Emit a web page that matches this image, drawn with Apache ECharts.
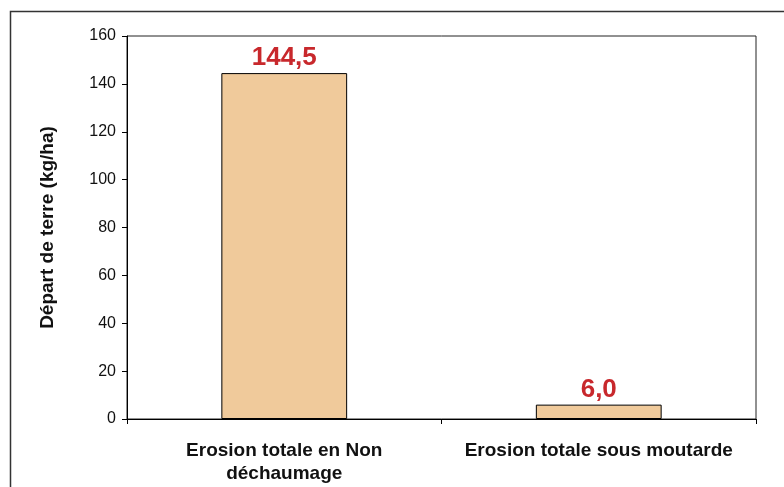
<!DOCTYPE html>
<html>
<head>
<meta charset="utf-8">
<script src="https://cdn.jsdelivr.net/npm/echarts@6/dist/echarts.min.js"></script>
<style>
  html, body { margin: 0; padding: 0; background: #fff; }
  #main { width: 784px; height: 487px; }
</style>
</head>
<body>
<div id="main"></div>
<script>
// catégories et valeurs
var categories = ['Erosion totale en Non\ndéchaumage', 'Erosion totale sous moutarde'];
var values = [144.5, 6.0];
var valueLabels = ['144,5', '6,0'];

var myChart = echarts.init(document.getElementById('main'));
var options = {
    animation: false,
    graphic: [{
        type: 'rect',
        shape: { x: 10.5, y: 11.5, width: 800, height: 520 },
        style: { fill: 'none', stroke: '#333', lineWidth: 1.5 },
        silent: true
    }],
    grid: {
        left: 127,
        right: 28,
        top: 36,
        bottom: 68,
        show: true,
        borderColor: '#222',
        borderWidth: 1
    },
    xAxis: {
        type: 'category',
        data: categories,
        axisLine: { lineStyle: { color: '#000', width: 1 } },
        axisTick: { show: true, length: 5, lineStyle: { color: '#000' } },
        axisLabel: {
            color: '#111',
            fontFamily: 'Liberation Sans, Arial, sans-serif',
            fontWeight: 'bold',
            fontSize: 19,
            lineHeight: 23,
            margin: 20,
            interval: 0
        }
    },
    yAxis: {
        type: 'value',
        min: 0,
        max: 160,
        interval: 20,
        name: 'Départ de terre (kg/ha)',
        nameLocation: 'middle',
        nameGap: 70,
        nameTextStyle: {
            color: '#111',
            fontFamily: 'Liberation Sans, Arial, sans-serif',
            fontWeight: 'bold',
            fontSize: 19
        },
        axisLine: { show: true, lineStyle: { color: '#000', width: 1 } },
        axisTick: { show: true, length: 5, lineStyle: { color: '#000' } },
        axisLabel: {
            color: '#111',
            fontFamily: 'Liberation Sans, Arial, sans-serif',
            fontSize: 16,
            margin: 11
        },
        splitLine: { show: false }
    },
    series: [{
        type: 'bar',
        data: values,
        barCategoryGap: '60%',
        itemStyle: {
            color: '#F0CA9B',
            borderColor: '#000',
            borderWidth: 1
        },
        label: {
            show: true,
            position: 'top',
            distance: 2,
            color: '#C8282C',
            fontFamily: 'Liberation Sans, Arial, sans-serif',
            fontWeight: 'bold',
            fontSize: 26,
            formatter: function (p) {
                return valueLabels[p.dataIndex];
            }
        }
    }]
};
myChart.setOption(options);
window.addEventListener('resize', function () {
    myChart.resize();
});
</script>
</body>
</html>
